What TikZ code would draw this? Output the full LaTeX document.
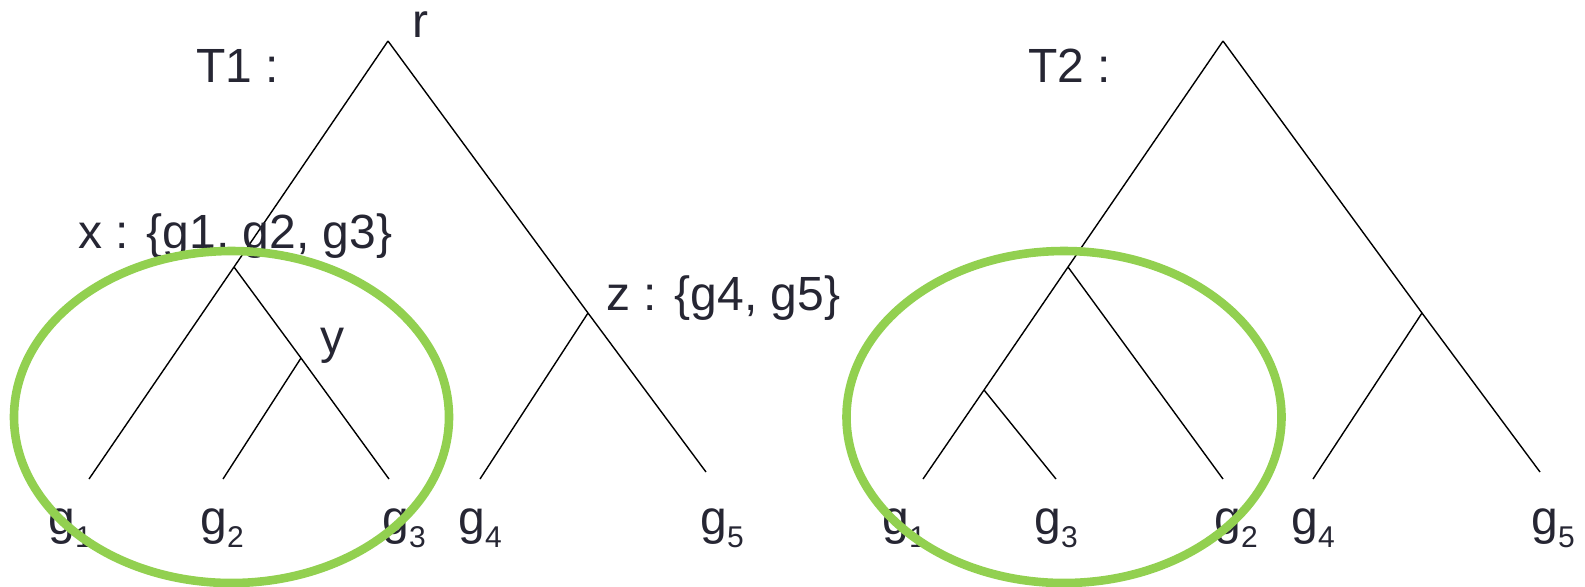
\documentclass[tikz,border=0pt]{standalone}
\usepackage{fontspec}
\setmainfont{Liberation Sans}
\definecolor{txt}{HTML}{262633}
\definecolor{grn}{RGB}{146,208,80}
\newcommand\gsub[2]{#1\raisebox{-6.5pt}{\fontsize{15}{15}\selectfont #2}}
\begin{document}
\begin{tikzpicture}[x=0.5pt,y=-0.5pt,
  branch/.style={line width=0.7pt,black},
  ring/.style={draw=grn,line width=4.3pt},
  lbl/.style={anchor=base west,inner sep=0pt,text=txt,font=\fontsize{24}{29}\selectfont}]
\useasboundingbox (0,0) rectangle (1585,586);
% ---------- T1 ----------
\coordinate (r1) at (388,41);
\coordinate (x1) at (234,267);
\coordinate (y1) at (301,358);
\coordinate (z1) at (588,313);
\coordinate (a1) at (89,479);
\coordinate (a2) at (223,479);
\coordinate (a3) at (389,479);
\coordinate (a4) at (480,479);
\coordinate (a5) at (706,472);
\draw[branch] (r1) -- (x1) -- (a1);
\draw[branch] (x1) -- (y1) -- (a3);
\draw[branch] (y1) -- (a2);
\draw[branch] (r1) -- (z1) -- (a5);
\draw[branch] (z1) -- (a4);
\node[lbl] (t1) at (196,82) {T1 :};
\node[lbl] (rl) at (412,37) {r};
\node[lbl] (xl) at (78,248) {x : \{g1, g2, g3\}};
\node[lbl] (yl) at (320,353) {y};
\node[lbl] (zl) at (606,310) {z : \{g4, g5\}};
\node[lbl] (g11) at (48,534) {\gsub{g}{1}};
\node[lbl] (g12) at (200,534) {\gsub{g}{2}};
\node[lbl] (g13) at (382,534) {\gsub{g}{3}};
\node[lbl] (g14) at (458,534) {\gsub{g}{4}};
\node[lbl] (g15) at (700,534) {\gsub{g}{5}};
% ---------- T2 ----------
\coordinate (r2) at (1223,41);
\coordinate (x2) at (1068,267);
\coordinate (w2) at (984,390);
\coordinate (z2) at (1422,313);
\coordinate (b1) at (923,479);
\coordinate (b3) at (1056,479);
\coordinate (b2) at (1223,479);
\coordinate (b4) at (1313,479);
\coordinate (b5) at (1540,472);
\draw[branch] (r2) -- (x2) -- (w2) -- (b1);
\draw[branch] (w2) -- (b3);
\draw[branch] (x2) -- (b2);
\draw[branch] (r2) -- (z2) -- (b5);
\draw[branch] (z2) -- (b4);
\node[lbl] (t2) at (1028,82) {T2 :};
\node[lbl] (g21) at (882,534) {\gsub{g}{1}};
\node[lbl] (g23) at (1034,534) {\gsub{g}{3}};
\node[lbl] (g22) at (1214,534) {\gsub{g}{2}};
\node[lbl] (g24) at (1291,534) {\gsub{g}{4}};
\node[lbl] (g25) at (1531,534) {\gsub{g}{5}};
% ---------- rings ----------
\draw[ring] (231.5,417) ellipse [x radius=108.75pt, y radius=83pt];
\draw[ring] (1064,417) ellipse [x radius=108.75pt, y radius=83pt];
\end{tikzpicture}
\end{document}
